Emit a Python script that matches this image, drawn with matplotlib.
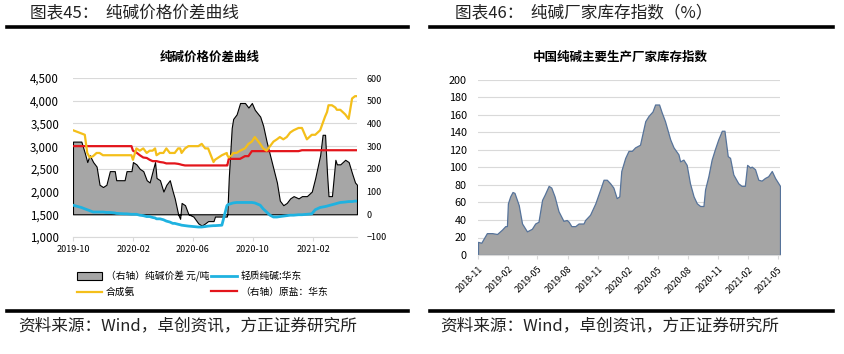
import matplotlib
matplotlib.use("Agg")
import matplotlib.pyplot as plt
import matplotlib.dates as mdates
import pandas as pd

plt.rcParams['font.family'] = ['Noto Sans CJK SC', 'DejaVu Sans']

# ---- left chart data: soda ash price spread ----
left_dates = ["2019-10-01", "2019-10-18", "2019-10-25", "2019-10-30", "2019-11-04", "2019-11-11",
              "2019-11-18", "2019-11-24", "2019-12-01", "2019-12-08", "2019-12-15", "2019-12-25",
              "2019-12-28", "2020-01-14", "2020-01-18", "2020-01-28", "2020-01-31", "2020-02-07",
              "2020-02-14", "2020-02-21", "2020-02-28", "2020-03-05", "2020-03-11", "2020-03-16",
              "2020-03-19", "2020-03-26", "2020-04-02", "2020-04-08", "2020-04-15", "2020-04-21",
              "2020-04-25", "2020-05-02", "2020-05-06", "2020-05-09", "2020-05-16", "2020-05-23",
              "2020-06-02", "2020-06-12", "2020-06-19", "2020-06-26", "2020-07-02", "2020-07-13",
              "2020-07-16", "2020-07-30", "2020-08-09", "2020-08-10", "2020-08-13", "2020-08-19",
              "2020-08-22", "2020-08-29", "2020-09-05", "2020-09-15", "2020-09-22", "2020-09-29",
              "2020-10-05", "2020-10-16", "2020-10-22", "2020-10-29", "2020-11-05", "2020-11-12",
              "2020-11-19", "2020-11-25", "2020-12-02", "2020-12-09", "2020-12-16", "2020-12-23",
              "2021-01-02", "2021-01-09", "2021-01-19", "2021-01-29", "2021-02-05", "2021-02-15",
              "2021-02-20", "2021-02-25", "2021-03-01", "2021-03-04", "2021-03-11", "2021-03-18",
              "2021-03-21", "2021-03-28", "2021-04-07", "2021-04-14", "2021-04-21", "2021-04-27",
              "2021-05-01"]
spread = [320, 320, 270, 230, 260, 230, 210, 130, 120, 130, 190, 190,
          150, 150, 190, 190, 230, 220, 200, 190, 150, 140, 190, 230,
          160, 150, 100, 130, 150, 100, 70, 0, -20, 50, 40, 0,
          -10, -40, -50, -40, -30, -30, -10, -10, -10, 0, 160, 380,
          420, 440, 490, 490, 470, 490, 460, 430, 390, 320, 260, 200,
          140, 60, 40, 50, 70, 80, 70, 80, 80, 100, 160, 260,
          350, 350, 180, 80, 80, 240, 220, 220, 240, 230, 180, 140,
          130]
ammonia = [3350, 3280, 3250, 2850, 2750, 2780, 2850, 2850, 2800, 2800, 2800, 2800,
           2800, 2800, 2800, 2800, 2700, 2950, 2900, 2950, 2850, 2900, 2900, 2950,
           2800, 2850, 2850, 2950, 2850, 2850, 2850, 2950, 2950, 2850, 2950, 3000,
           3000, 3000, 3050, 2950, 2950, 2650, 2700, 2800, 2850, 2800, 2750, 2800,
           2850, 2850, 2900, 2950, 3050, 3100, 3200, 3050, 2950, 2900, 3000, 3100,
           3150, 3200, 3150, 3200, 3300, 3350, 3400, 3400, 3150, 3250, 3250, 3350,
           3500, 3650, 3750, 3900, 3900, 3850, 3800, 3800, 3700, 3600, 4050, 4100,
           4100]
light_soda = [1700, 1650, 1620, 1600, 1580, 1550, 1550, 1550, 1550, 1540, 1540, 1530,
              1520, 1510, 1510, 1500, 1500, 1500, 1480, 1470, 1450, 1450, 1430, 1420,
              1400, 1400, 1380, 1350, 1330, 1300, 1300, 1280, 1270, 1260, 1250, 1240,
              1230, 1220, 1220, 1230, 1240, 1250, 1250, 1260, 1680, 1700, 1720, 1740,
              1750, 1760, 1760, 1760, 1760, 1760, 1750, 1700, 1620, 1550, 1480, 1440,
              1440, 1450, 1460, 1470, 1480, 1480, 1490, 1490, 1500, 1510, 1600, 1650,
              1660, 1670, 1680, 1690, 1710, 1730, 1740, 1760, 1770, 1780, 1780, 1790,
              1790]
salt = [300, 300, 300, 300, 300, 300, 300, 300, 300, 300, 300, 300,
        300, 300, 300, 300, 280, 272, 260, 250, 248, 240, 234, 234,
        234, 230, 228, 224, 224, 224, 224, 222, 220, 218, 215, 215,
        215, 215, 215, 215, 215, 215, 215, 215, 215, 215, 244, 244,
        244, 244, 244, 256, 256, 278, 278, 278, 278, 278, 278, 278,
        278, 278, 278, 278, 278, 278, 278, 282, 282, 282, 282, 282,
        282, 282, 282, 282, 282, 282, 282, 282, 282, 282, 282, 282,
        282]
left_labels = ["（右轴）纯碱价差 元/吨", "合成氨", "轻质纯碱:华东", "（右轴）原盐：华东"]

# ---- right chart data: producer inventory index ----
stock_dates = ["2018-11-01", "2018-11-11", "2018-11-28", "2018-12-14", "2018-12-29", "2019-01-13",
               "2019-01-23", "2019-01-28", "2019-01-31", "2019-02-07", "2019-02-14", "2019-02-20",
               "2019-03-05", "2019-03-15", "2019-03-30", "2019-04-09", "2019-04-14", "2019-04-24",
               "2019-05-04", "2019-05-15", "2019-05-23", "2019-06-04", "2019-06-12", "2019-06-22",
               "2019-07-04", "2019-07-19", "2019-07-29", "2019-08-04", "2019-08-12", "2019-08-24",
               "2019-09-03", "2019-09-18", "2019-09-23", "2019-10-08", "2019-10-24", "2019-11-08",
               "2019-11-18", "2019-11-28", "2019-12-08", "2019-12-18", "2019-12-28", "2020-01-05",
               "2020-01-11", "2020-01-23", "2020-02-02", "2020-02-12", "2020-02-22", "2020-03-08",
               "2020-03-24", "2020-04-03", "2020-04-15", "2020-04-23", "2020-05-05", "2020-05-13",
               "2020-05-23", "2020-06-08", "2020-06-18", "2020-07-03", "2020-07-08", "2020-07-18",
               "2020-07-28", "2020-08-07", "2020-08-18", "2020-08-28", "2020-09-07", "2020-09-17",
               "2020-09-22", "2020-10-02", "2020-10-12", "2020-10-22", "2020-11-01", "2020-11-12",
               "2020-11-20", "2020-11-30", "2020-12-07", "2020-12-17", "2021-01-01", "2021-01-11",
               "2021-01-21", "2021-01-28", "2021-02-06", "2021-02-11", "2021-02-21", "2021-03-03",
               "2021-03-13", "2021-03-23", "2021-04-02", "2021-04-13", "2021-04-23", "2021-05-08"]
stock_index = [15, 14, 25, 25, 24, 29, 33, 33, 59, 67, 72, 71,
               57, 36, 27, 29, 30, 36, 38, 63, 69, 79, 77, 67,
               50, 39, 40, 38, 33, 33, 36, 36, 40, 46, 59, 75,
               86, 86, 82, 77, 65, 67, 96, 111, 119, 119, 123, 126,
               153, 159, 164, 172, 172, 163, 153, 132, 123, 115, 107, 109,
               103, 82, 67, 59, 56, 56, 75, 90, 109, 121, 132, 142,
               142, 113, 111, 92, 82, 79, 79, 103, 100, 101, 98, 86,
               85, 88, 90, 96, 88, 79]

ld = pd.to_datetime(left_dates)
sd = pd.to_datetime(stock_dates)

W, H = 844, 354
fig = plt.figure(figsize=(W / 100, H / 100), dpi=100)

def px(x, y):   # pixel position -> figure fraction
    return x / W, 1 - y / H

# header / footer bars and texts
for x0, x1 in [(7, 408), (430, 833)]:
    for yy in (27, 311):
        fig.add_artist(plt.Line2D([x0 / W, x1 / W], [1 - yy / H] * 2, color="black", lw=2.6))
fig.text(*px(30, 14), "图表45：  纯碱价格价差曲线", fontsize=12, va="center", color="#222222")
fig.text(*px(455, 14), "图表46：  纯碱厂家库存指数（%）", fontsize=12, va="center", color="#222222")
fig.text(*px(18, 326), "资料来源：Wind，卓创资讯，方正证券研究所", fontsize=12, va="center", color="#222222")
fig.text(*px(440, 326), "资料来源：Wind，卓创资讯，方正证券研究所", fontsize=12, va="center", color="#222222")
fig.text(*px(210, 57), "纯碱价格价差曲线", fontsize=9, weight="bold", ha="center", va="center")
fig.text(*px(620, 57), "中国纯碱主要生产厂家库存指数", fontsize=9, weight="bold", ha="center", va="center")

# ---- left chart ----
ax = fig.add_axes([73 / W, 1 - 237 / H, 284 / W, 159 / H])
ax2 = ax.twinx()
ax.set_zorder(ax2.get_zorder() + 1)   # yellow/blue lines on top of the grey area
ax.patch.set_visible(False)

gray = ax2.fill_between(ld, 0, spread, facecolor="#a6a6a6", edgecolor="black", lw=0.8)
red, = ax2.plot(ld, salt, color="#e3151b", lw=1.6)
yellow, = ax.plot(ld, ammonia, color="#f4bf1a", lw=1.6)
blue, = ax.plot(ld, light_soda, color="#1fb2e0", lw=2)

ax.set_ylim(1000, 4500)
ax.set_yticks(range(1000, 4501, 500))
ax.set_yticklabels([f"{v:,}" for v in range(1000, 4501, 500)])
ax2.set_ylim(-100, 600)
ax2.set_yticks(range(-100, 601, 100))
ax2.grid(axis="y", color="#d9d9d9", lw=0.8)
ax2.set_axisbelow(True)
ax.set_xlim(ld[0], ld[-1])
ax.xaxis.set_major_locator(mdates.MonthLocator(bymonth=[2, 6, 10]))
ax.xaxis.set_major_formatter(mdates.DateFormatter("%Y-%m"))
for a in (ax, ax2):
    for s in a.spines.values():
        s.set_visible(False)
ax.spines["bottom"].set_visible(True)
ax.spines["bottom"].set_color("#d9d9d9")
ax.tick_params(axis="y", length=0, labelsize=8.3, pad=10)
ax2.tick_params(axis="y", length=0, labelsize=6.5, pad=7)
ax.tick_params(axis="x", length=3, color="#d9d9d9", labelsize=6.5, pad=3)

fig.legend([gray, yellow, blue, red], left_labels, loc="upper left",
           bbox_to_anchor=px(68, 262), ncol=2, frameon=False, fontsize=7,
           handlelength=2.6, handleheight=0.8, columnspacing=0.2, labelspacing=0.55,
           handletextpad=0.4)

# ---- right chart ----
bx = fig.add_axes([478 / W, 1 - 255 / H, 302 / W, 175 / H])
bx.fill_between(sd, 0, stock_index, facecolor="#a5a5a5", edgecolor="#56739a", lw=0.9)
bx.set_ylim(0, 200)
bx.set_yticks(range(0, 201, 20))
bx.set_xlim(sd[0], sd[-1])
bx.grid(axis="y", color="#d9d9d9", lw=0.8)
bx.set_axisbelow(True)
bx.xaxis.set_major_locator(mdates.MonthLocator(bymonth=[2, 5, 8, 11]))
bx.xaxis.set_major_formatter(mdates.DateFormatter("%Y-%m"))
for s in bx.spines.values():
    s.set_visible(False)
bx.spines["bottom"].set_visible(True)
bx.spines["bottom"].set_color("#d9d9d9")
bx.tick_params(axis="y", length=0, labelsize=7.8, pad=8)
bx.tick_params(axis="x", length=3, color="#d9d9d9", labelsize=6.5, pad=4)
for t in bx.get_xticklabels():
    t.set_rotation(45)
    t.set_ha("right")
    t.set_rotation_mode("anchor")

fig.savefig("out.png", dpi=100)
